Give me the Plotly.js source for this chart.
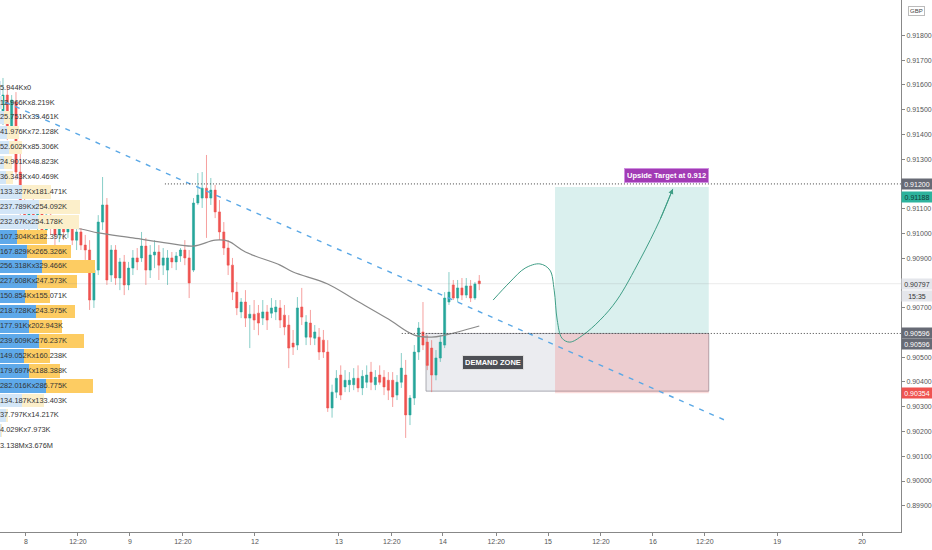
<!DOCTYPE html>
<html><head><meta charset="utf-8">
<script src="https://cdn.plot.ly/plotly-3.0.1.min.js"></script>
<style>html,body{margin:0;padding:0;background:#fff}#chart{width:932px;height:550px}</style>
</head><body><div id="chart"></div>
<script>
// ---- hourly candles (GBP) ----
const openP = [0.91458,0.91559,0.91418,0.91531,0.91248,0.91095,0.91054,0.91115,0.91046,0.91095,
 0.91014,0.91074,0.91022,0.90994,0.91030,0.91006,0.91022,0.90973,0.91006,0.90953,
 0.90933,0.90731,0.90852,0.91046,0.91115,0.90832,0.90933,0.90820,0.90885,0.90792,
 0.90860,0.90901,0.90901,0.90949,0.90852,0.90913,0.90925,0.90872,0.90852,0.90901,
 0.90885,0.90909,0.90933,0.90901,0.90852,0.91123,0.91143,0.91183,0.91143,0.91175,
 0.91087,0.91006,0.90941,0.90872,0.90763,0.90683,0.90723,0.90658,0.90674,0.90678,
 0.90658,0.90683,0.90678,0.90683,0.90699,0.90670,0.90630,0.90557,0.90549,0.90703,
 0.90581,0.90638,0.90577,0.90581,0.90569,0.90521,0.90295,0.90359,0.90428,0.90380,
 0.90389,0.90389,0.90415,0.90376,0.90399,0.90440,0.90389,0.90428,0.90419,0.90407,
 0.90407,0.90347,0.90399,0.90428,0.90267,0.90335,0.90521,0.90602,0.90561,0.90537,
 0.90428,0.90497,0.90549,0.90723,0.90792,0.90739,0.90780,0.90751,0.90788,0.90739,
 0.90808];
const highP = [0.91628,0.91600,0.91559,0.91571,0.91337,0.91155,0.91135,0.91155,0.91115,0.91135,
 0.91095,0.91115,0.91062,0.91054,0.91062,0.91046,0.91054,0.91034,0.91022,0.90994,
 0.90973,0.90872,0.91074,0.91228,0.91143,0.90953,0.90953,0.90901,0.90913,0.90885,
 0.90933,0.90941,0.91006,0.90982,0.90953,0.90973,0.90953,0.90941,0.90933,0.90925,
 0.90925,0.90941,0.90973,0.90933,0.91143,0.91244,0.91248,0.91317,0.91224,0.91196,
 0.91135,0.91046,0.90973,0.90901,0.90804,0.90739,0.90771,0.90711,0.90731,0.90711,
 0.90731,0.90711,0.90739,0.90731,0.90731,0.90711,0.90670,0.90610,0.90743,0.90780,
 0.90670,0.90691,0.90630,0.90618,0.90610,0.90569,0.90389,0.90448,0.90467,0.90448,
 0.90440,0.90456,0.90467,0.90448,0.90467,0.90481,0.90448,0.90467,0.90448,0.90440,
 0.90440,0.90428,0.90517,0.90489,0.90347,0.90549,0.90642,0.90723,0.90589,0.90569,
 0.90529,0.90589,0.90763,0.90844,0.90812,0.90812,0.90820,0.90820,0.90812,0.90804,
 0.90832];
const lowP = [0.91438,0.91377,0.91398,0.91216,0.91054,0.91014,0.90994,0.91022,0.91006,0.90982,
 0.90973,0.90994,0.90953,0.90965,0.90973,0.90982,0.90953,0.90933,0.90933,0.90893,
 0.90691,0.90699,0.90832,0.91014,0.90792,0.90804,0.90792,0.90771,0.90751,0.90771,
 0.90832,0.90852,0.90885,0.90792,0.90820,0.90860,0.90812,0.90832,0.90792,0.90860,
 0.90852,0.90885,0.90872,0.90739,0.90844,0.91115,0.91103,0.90982,0.91115,0.91062,
 0.90973,0.90913,0.90832,0.90731,0.90670,0.90658,0.90622,0.90537,0.90610,0.90589,
 0.90630,0.90610,0.90658,0.90650,0.90618,0.90589,0.90456,0.90509,0.90529,0.90630,
 0.90549,0.90549,0.90549,0.90489,0.90497,0.90279,0.90256,0.90335,0.90327,0.90359,
 0.90359,0.90367,0.90359,0.90347,0.90376,0.90367,0.90367,0.90389,0.90347,0.90327,
 0.90299,0.90327,0.90376,0.90174,0.90226,0.90307,0.90489,0.90529,0.90448,0.90359,
 0.90407,0.90481,0.90537,0.90711,0.90731,0.90723,0.90731,0.90739,0.90723,0.90731,
 0.90771];
const closeP = [0.91559,0.91418,0.91539,0.91248,0.91095,0.91054,0.91115,0.91046,0.91095,0.91014,
 0.91074,0.91022,0.90994,0.91030,0.91006,0.91022,0.90973,0.91006,0.90953,0.90933,
 0.90731,0.90852,0.91046,0.91115,0.90812,0.90933,0.90820,0.90885,0.90792,0.90860,
 0.90901,0.90885,0.90949,0.90852,0.90913,0.90925,0.90872,0.90901,0.90901,0.90885,
 0.90909,0.90933,0.90901,0.90800,0.91123,0.91155,0.91183,0.91143,0.91175,0.91087,
 0.91006,0.90941,0.90872,0.90763,0.90699,0.90723,0.90658,0.90674,0.90650,0.90638,
 0.90683,0.90650,0.90699,0.90703,0.90650,0.90622,0.90537,0.90541,0.90699,0.90662,
 0.90642,0.90581,0.90602,0.90521,0.90521,0.90295,0.90359,0.90415,0.90347,0.90407,
 0.90407,0.90415,0.90376,0.90423,0.90428,0.90399,0.90419,0.90399,0.90380,0.90367,
 0.90339,0.90399,0.90456,0.90267,0.90335,0.90521,0.90618,0.90549,0.90467,0.90428,
 0.90497,0.90561,0.90739,0.90763,0.90739,0.90780,0.90751,0.90788,0.90739,0.90796,
 0.90797];
const barIndex = openP.map((_, i) => i);

// moving average (read at sample bars)
const maIdx = [14,18,22,30,38,44,49,52,56,64,67,75,81,89,95,99,102,110];
const maVal = [0.91022,0.91018,0.91002,0.90982,0.90961,0.90949,0.90973,0.90969,0.90925,0.90872,0.90844,0.90796,0.90735,0.90654,0.90589,0.90581,0.90589,0.90626];

// x-axis ticks
const tickPos  = [5.31,17.32,29.33,41.57,58.2,77.6,89.8,101.6,113.9,125.9,138.1,150.1,162.1,178.8,198.4];
const tickText = ['8','12:20','9','12:20','12','13','12:20','14','12:20','15','12:20','16','12:20','19','20'];
// price-axis ticks that are visible (others are covered by price tags)
const priceTicks = [0.918,0.917,0.916,0.915,0.914,0.913,0.911,0.910,0.909,0.907,0.905,0.904,0.903,0.902,0.901,0.900,0.899];

// volume profile rows (K)
const vpLevel = [0.91588,0.91528,0.91468,0.91408,0.91347,0.91287,0.91227,0.91167,0.91107,0.91046,0.90986,0.90926,
                 0.90866,0.90806,0.90746,0.90685,0.90625,0.90565,0.90505,0.90445,0.90384,0.90324,0.90264,0.90204];
const vpBuy  = [5.944,12.966,25.751,41.976,52.602,24.901,36.343,133.327,237.789,232.67,107.304,167.829,
                256.318,227.608,150.854,218.728,177.91,239.609,149.052,179.697,282.016,134.187,37.797,4.029];
const vpSell = [0,8.219,33.461,72.128,85.306,48.823,40.469,181.471,254.092,254.178,182.397,265.326,
                329.466,247.573,155.071,243.975,202.943,276.237,160.238,188.388,286.775,133.403,14.217,7.973];
const vpValueArea = [10, 20]; // first & last row inside value area
const vpTotalText = '3.138Mx3.676M';
const vpTotalLevel = 0.90141;

// trade drawing
const trendIdx = [0.46, 167.2];
const trendVal = [0.91531, 0.90242];
const targetLevel = 0.912, tpLevel = 0.91188, entryLevel = 0.90596, stopLevel = 0.90354, demandLow = 0.90363;
const lastPrice = 0.90797;
const targetLineStart = 37.4, entryLineStart = 92.1, demandStart = 97.7, zoneStart = 127.5, zoneEnd = 163.0;
const pathIdx = [113.2,117.1,120.6,124.0,126.3,127.3,128.0,129.1,130.9,133.9,137.9,141.8,147.1,151.7,154.7];
const pathVal = [0.90731,0.90804,0.90860,0.90877,0.90852,0.90771,0.90650,0.90577,0.90561,0.90589,0.90650,0.90731,0.90893,0.91054,0.91180];

const FONT = '"Liberation Sans", Arial, sans-serif';
const inVA = i => i >= vpValueArea[0] && i <= vpValueArea[1];
const fmtK = v => v === 0 ? '0' : v + 'K';

const traces = [
  {type:'bar', orientation:'h', xaxis:'x2', yaxis:'y', y:vpLevel, x:vpBuy, width:0.00054,
   marker:{color:vpLevel.map((_,i)=>inVA(i)?'#5ea9ea':'#d3e6f7')}, hoverinfo:'skip'},
  {type:'bar', orientation:'h', xaxis:'x2', yaxis:'y', y:vpLevel, x:vpSell, width:0.00054,
   marker:{color:vpLevel.map((_,i)=>inVA(i)?'#fdcc62':'#fcefca')}, hoverinfo:'skip'},
  {type:'scatter', mode:'text', xaxis:'x2', yaxis:'y', x:vpLevel.map(()=>0).concat([0]),
   y:vpLevel.concat([vpTotalLevel]),
   text:vpBuy.map((b,i)=>fmtK(b)+'x'+fmtK(vpSell[i])).concat([vpTotalText]),
   textposition:'middle right', textfont:{size:7.4, color:'#333', family:FONT}, cliponaxis:false, hoverinfo:'skip'},
  {type:'candlestick', x:barIndex, open:openP, high:highP, low:lowP, close:closeP,
   increasing:{line:{color:'rgba(38,166,154,0.55)', width:1}, fillcolor:'#26a69a'},
   decreasing:{line:{color:'rgba(239,83,80,0.55)', width:1}, fillcolor:'#ef5350'},
   whiskerwidth:0, hoverinfo:'skip'},
  {type:'scatter', mode:'lines', x:maIdx, y:maVal, line:{color:'#8a8a8a', width:1.2, shape:'spline', smoothing:1}, hoverinfo:'skip'},
  {type:'scatter', mode:'lines', x:trendIdx, y:trendVal, line:{color:'#5aa8e6', width:1.4, dash:'5px,6px'}, hoverinfo:'skip'},
  {type:'scatter', mode:'lines', x:pathIdx, y:pathVal, line:{color:'#3f9e86', width:1, shape:'spline', smoothing:1}, hoverinfo:'skip'}
];

const xEnd = 207.4;
const shapes = [
  {type:'rect', layer:'below', xref:'x', yref:'y', x0:demandStart, x1:zoneEnd, y0:demandLow, y1:entryLevel,
   fillcolor:'rgba(210,213,222,0.45)', line:{color:'rgba(140,140,150,0.7)', width:1}},
  {type:'rect', layer:'below', xref:'x', yref:'y', x0:zoneStart, x1:zoneEnd, y0:entryLevel, y1:tpLevel,
   fillcolor:'rgba(38,166,154,0.17)', line:{width:0}},
  {type:'rect', layer:'below', xref:'x', yref:'y', x0:zoneStart, x1:zoneEnd, y0:stopLevel, y1:entryLevel,
   fillcolor:'rgba(239,83,80,0.2)', line:{width:0}},
  {type:'line', xref:'x', yref:'y', x0:barIndex[0]-1, x1:xEnd, y0:lastPrice, y1:lastPrice, line:{color:'rgba(120,120,120,0.15)', width:1}},
  {type:'line', xref:'x', yref:'y', x0:targetLineStart, x1:xEnd, y0:targetLevel, y1:targetLevel, line:{color:'#444', width:1, dash:'1px,2px'}},
  {type:'line', xref:'x', yref:'y', x0:entryLineStart, x1:xEnd, y0:entryLevel, y1:entryLevel, line:{color:'#444', width:1, dash:'1px,2px'}}
];

function tag(y, text, bg, fg, shift){
  return {xref:'paper', x:1, xanchor:'left', yref:'y', y:y, yanchor:'middle', text:text, showarrow:false,
    bgcolor:bg, font:{size:7, color:fg, family:FONT}, borderpad:1.5, width:27, yshift:shift||0};
}
const annotations = [
  tag(targetLevel, targetLevel.toFixed(5), '#676a75', '#fff'),
  tag(tpLevel, tpLevel.toFixed(5), '#2db39d', '#113a34', -10),
  tag(lastPrice, lastPrice.toFixed(5), '#e4e6eb', '#333'),
  tag(lastPrice, '15:35', '#e4e6eb', '#333', -12),
  tag(entryLevel, entryLevel.toFixed(5), '#676a75', '#fff', 0),
  tag(entryLevel, entryLevel.toFixed(5), '#676a75', '#fff', -11),
  tag(stopLevel, stopLevel.toFixed(5), '#ef5350', '#fff'),
  {xref:'paper', x:1, xanchor:'left', xshift:7, yref:'y', y:0.91899, text:'GBP', showarrow:false,
   bgcolor:'#fff', bordercolor:'#bbb', borderwidth:1, borderpad:1, font:{size:6, color:'#444', family:FONT}},
  {xref:'x', yref:'y', x:153.3, y:0.91236, text:'<b>Upside Target at 0.912</b>', showarrow:false,
   bgcolor:'#a23bb5', bordercolor:'#cf8fe0', borderwidth:1, borderpad:2, font:{size:7.5, color:'#fff', family:FONT}},
  {xref:'x', yref:'y', x:pathIdx[0], y:0.90477, text:'<b>DEMAND ZONE</b>', showarrow:false,
   bgcolor:'#4d4f55', bordercolor:'#ddd', borderwidth:1, borderpad:2, font:{size:7.5, color:'#fff', family:FONT}},
  {xref:'x', yref:'y', x:pathIdx[pathIdx.length-1], y:pathVal[pathVal.length-1],
   axref:'x', ayref:'y', ax:pathIdx[pathIdx.length-2], ay:pathVal[pathVal.length-2],
   text:'', showarrow:true, arrowhead:2, arrowsize:1, arrowwidth:1, arrowcolor:'#3f9e86'}
];

const layout = {
  width:932, height:550, margin:{l:0, r:31, t:0, b:18},
  paper_bgcolor:'#fff', plot_bgcolor:'#fff', showlegend:false, hovermode:false, barmode:'stack', dragmode:false,
  xaxis:{type:'linear', range:[-0.69, xEnd], tickvals:tickPos, ticktext:tickText, showgrid:false, zeroline:false,
    showline:true, linecolor:'#888', linewidth:1, ticks:'outside', ticklen:3, tickcolor:'#888',
    tickfont:{size:7, color:'#555', family:FONT}, rangeslider:{visible:false}, fixedrange:true},
  xaxis2:{overlaying:'x', anchor:'y', range:[0, 5528], visible:false, fixedrange:true},
  yaxis:{side:'right', range:[0.89794, 0.91943], tickmode:'array', tickvals:priceTicks,
    ticktext:priceTicks.map(v=>v.toFixed(5)), showgrid:false, zeroline:false,
    showline:true, linecolor:'#888', linewidth:1, ticks:'outside', ticklen:3, tickcolor:'#888',
    tickfont:{size:7, color:'#555', family:FONT}, fixedrange:true},
  shapes:shapes, annotations:annotations
};

Plotly.newPlot('chart', traces, layout, {staticPlot:true, displayModeBar:false});
</script></body></html>
